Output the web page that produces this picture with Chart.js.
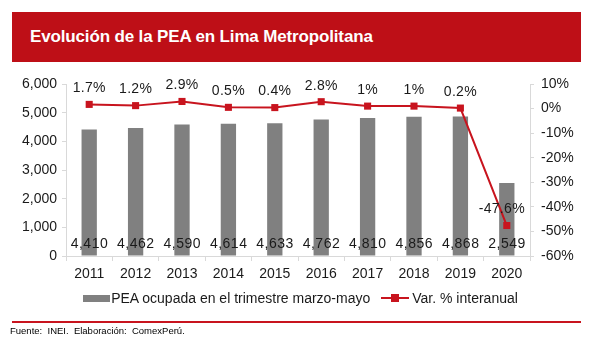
<!DOCTYPE html>
<html><head><meta charset="utf-8">
<script src="https://cdn.jsdelivr.net/npm/chart.js@4/dist/chart.umd.min.js"></script>
<style>
html,body{margin:0;padding:0;background:#fff;}
body{width:601px;height:351px;position:relative;overflow:hidden;font-family:"Liberation Sans",Arial,sans-serif;}
#title{position:absolute;left:12px;top:12px;width:569px;height:50px;background:#be0f17;color:#fff;font-weight:bold;font-size:17px;line-height:50px;box-sizing:border-box;padding-left:18px;letter-spacing:-0.15px;}
#cv{position:absolute;left:0;top:0;}
#legend{position:absolute;left:0;top:289px;width:601px;text-align:center;font-size:14px;color:#1a1a1a;white-space:nowrap;}
#legend span{vertical-align:middle;display:inline-block;}
.sw1{width:27px;height:7px;background:#808080;margin-right:1px;}
.sw2{width:28px;height:2px;background:#c8141e;position:relative;margin-left:11px;margin-right:3px;}
.sw2:after{content:"";position:absolute;left:10px;top:-3px;width:8px;height:8px;background:#c8141e;}
#rule{position:absolute;left:12px;top:321px;width:569px;height:2px;background:#c8141e;}
#foot{position:absolute;left:10px;top:325px;font-size:9.5px;color:#000;}
</style></head>
<body>
<div id="title">Evolución de la PEA en Lima Metropolitana</div>
<canvas id="cv" width="601" height="351"></canvas>
<div id="legend"><span class="sw1"></span><span>PEA ocupada en el trimestre marzo-mayo</span><span class="sw2"></span><span>Var. % interanual</span></div>
<div id="rule"></div>
<div id="foot">Fuente:&nbsp; INEI.&nbsp; Elaboración:&nbsp; ComexPerú.</div>
<script>
const years = ["2011","2012","2013","2014","2015","2016","2017","2018","2019","2020"];
const peaOcupada = [4410, 4462, 4590, 4614, 4633, 4762, 4810, 4856, 4868, 2549];
const varInteranual = [1.7, 1.2, 2.9, 0.5, 0.4, 2.8, 1, 1, 0.2, -47.6];
const leftTicks = [0, 1000, 2000, 3000, 4000, 5000, 6000];
const rightTicks = [10, 0, -10, -20, -30, -40, -50, -60];

const FONT = '"Liberation Sans", Arial, sans-serif';
const fmt = v => v.toLocaleString('en-US');

const labelPlugin = {
  id: 'labels',
  afterDatasetsDraw(chart) {
    const ctx = chart.ctx;
    ctx.save();
    ctx.font = '14px ' + FONT;
    ctx.fillStyle = '#1a1a1a';
    ctx.textAlign = 'center';
    ctx.textBaseline = 'middle';
    const y0 = chart.scales.y.getPixelForValue(0);
    ctx.letterSpacing = '0.5px';
    chart.getDatasetMeta(1).data.forEach((el, i) => {
      ctx.fillText(fmt(peaOcupada[i]), el.x + 0.25, y0 - 12);
    });
    ctx.letterSpacing = '0.3px';
    chart.getDatasetMeta(0).data.forEach((el, i) => {
      let x = el.x;
      if (i === varInteranual.length - 1) x -= 5;
      ctx.fillText(varInteranual[i] + '%', x, el.y - 16);
    });
    ctx.restore();
  }
};

new Chart(document.getElementById('cv'), {
  data: {
    labels: years,
    datasets: [
      {
        type: 'line', label: 'Var. % interanual', data: varInteranual, yAxisID: 'y2',
        borderColor: '#c8141e', backgroundColor: '#c8141e', borderWidth: 2,
        pointStyle: 'rect', pointRadius: 5, pointBackgroundColor: '#c8141e', pointBorderWidth: 0,
        tension: 0, order: 0
      },
      {
        type: 'bar', label: 'PEA ocupada en el trimestre marzo-mayo', data: peaOcupada, yAxisID: 'y',
        backgroundColor: '#808080', barPercentage: 0.33, categoryPercentage: 1, order: 1
      }
    ]
  },
  options: {
    responsive: false, animation: false, devicePixelRatio: 1,
    layout: { padding: { top: 84, left: 0, right: 0, bottom: 0 } },
    plugins: { legend: { display: false }, tooltip: { enabled: false } },
    scales: {
      x: {
        offset: true,
        grid: { display: true, offset: true, drawOnChartArea: false, drawTicks: true, tickLength: 5, color: '#d9d9d9' },
        border: { color: '#d9d9d9', width: 1 },
        ticks: { font: { family: FONT, size: 14 }, color: '#1a1a1a', padding: 5, maxRotation: 0 },
        afterFit(s) { s.height = 95; }
      },
      y: {
        position: 'left', min: 0, max: 6000,
        afterBuildTicks(s) { s.ticks = leftTicks.map(v => ({ value: v })); },
        grid: { drawOnChartArea: false, tickLength: 4, color: '#d9d9d9' },
        border: { color: '#d9d9d9' },
        ticks: { font: { family: FONT, size: 14 }, color: '#1a1a1a', padding: 5, callback: v => fmt(v) },
        afterFit(s) { s.width = 66; }
      },
      y2: {
        position: 'right', min: -60, max: 10,
        afterBuildTicks(s) { s.ticks = rightTicks.map(v => ({ value: v })); },
        grid: { drawOnChartArea: false, tickLength: 4, color: '#d9d9d9' },
        border: { color: '#d9d9d9' },
        ticks: { font: { family: FONT, size: 14 }, color: '#1a1a1a', padding: 7, callback: v => v + '%' },
        afterFit(s) { s.width = 71; }
      }
    }
  },
  plugins: [labelPlugin]
});
</script>
</body></html>
